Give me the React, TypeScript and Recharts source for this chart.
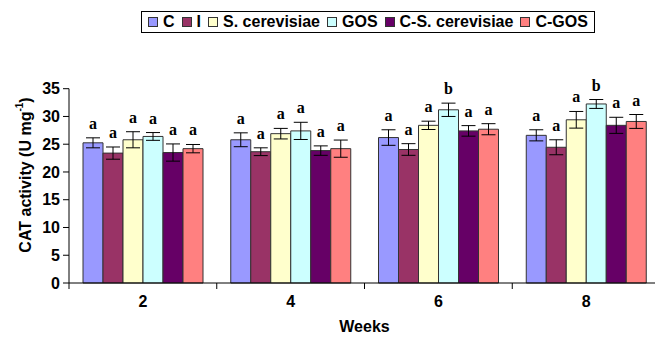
import React from 'react';
import { BarChart, Bar, XAxis, YAxis, ErrorBar, LabelList, Legend, Label } from 'recharts';

const weeks = ['2', '4', '6', '8'];
const seriesNames = ['C', 'I', 'S. cerevisiae', 'GOS', 'C-S. cerevisiae', 'C-GOS'];
const colors = ['#9999FF', '#993366', '#FFFFCC', '#CCFFFF', '#660066', '#FF8080'];

const cValues = [25.25, 25.8, 26.2, 26.6];
const cErr = [0.9, 1.25, 1.4, 1.0];
const iValues = [23.4, 23.65, 24.05, 24.45];
const iErr = [1.1, 0.7, 1.05, 1.35];
const scValues = [25.8, 26.9, 28.4, 29.4];
const scErr = [1.45, 0.95, 0.75, 1.5];
const gosValues = [26.4, 27.4, 31.2, 32.25];
const gosErr = [0.7, 1.55, 1.2, 0.8];
const cscValues = [23.5, 23.85, 27.4, 28.4];
const cscErr = [1.55, 0.85, 0.95, 1.45];
const cgosValues = [24.2, 24.2, 27.7, 29.1];
const cgosErr = [0.75, 1.55, 1.0, 1.25];

const cLetters = ['a', 'a', 'a', 'a'];
const iLetters = ['a', 'a', 'a', 'a'];
const scLetters = ['a', 'a', 'a', 'a'];
const gosLetters = ['a', 'a', 'b', 'b'];
const cscLetters = ['a', 'a', 'a', 'a'];
const cgosLetters = ['a', 'a', 'a', 'a'];

const yTicks = [0, 5, 10, 15, 20, 25, 30, 35];

const allValues = [cValues, iValues, scValues, gosValues, cscValues, cgosValues];
const allErr = [cErr, iErr, scErr, gosErr, cscErr, cgosErr];
const allLetters = [cLetters, iLetters, scLetters, gosLetters, cscLetters, cgosLetters];

const data = weeks.map((w, i) => {
  const row: any = { week: w };
  allValues.forEach((vals, s) => {
    row['s' + s] = vals[i];
    row['e' + s] = allErr[s][i];
  });
  return row;
});

const FONT = 'Arial, "Liberation Sans", sans-serif';
const FS = 16;

const makeLetterLabel = (s: number) => (props: any) => {
  const vb = props.viewBox || props;
  const x = vb.x ?? props.x;
  const y = vb.y ?? props.y;
  const width = vb.width ?? props.width;
  const height = vb.height ?? props.height;
  const idx = props.index;
  const value = allValues[s][idx];
  const err = allErr[s][idx];
  const pxPerUnit = height / value;
  const top = y - err * pxPerUnit;
  return (
    <text
      x={x + width / 2}
      y={top - 9}
      textAnchor="middle"
      fontFamily='"Liberation Serif", "Times New Roman", serif'
      fontWeight="bold"
      fontSize={16}
      fill="#000"
    >
      {allLetters[s][idx]}
    </text>
  );
};

const XTick = (props: any) => {
  const { x, y, payload } = props;
  const half = payload && payload.offset ? payload.offset : 73.9;
  return (
    <g>
      <line x1={x - half} y1={y - 8} x2={x - half} y2={y - 2} stroke="#000" strokeWidth={1} />
      <text x={x} y={y + 16} textAnchor="middle" fontFamily={FONT} fontWeight="bold" fontSize={FS} fill="#000">
        {payload.value}
      </text>
    </g>
  );
};

const YTitle = () => (
  <text
    x={25}
    y={175}
    transform="rotate(-90 25 175)"
    textAnchor="middle"
    dominantBaseline="central"
    fontFamily={FONT}
    fontWeight="bold"
    fontSize={FS}
    fill="#000"
  >
    CAT activity (U mg
    <tspan fontSize={10} dy={-6}>-1</tspan>
    <tspan dy={6}>)</tspan>
  </text>
);

const LegendContent = () => (
  <div
    style={{
      display: 'flex',
      alignItems: 'center',
      border: '1px solid #000',
      padding: '1px 6px',
      background: '#fff',
      fontFamily: FONT,
      fontWeight: 'bold',
      fontSize: FS,
      lineHeight: '18px',
      whiteSpace: 'nowrap',
      color: '#000',
    }}
  >
    {seriesNames.map((n, i) => (
      <div key={n} style={{ display: 'flex', alignItems: 'center', marginRight: i < seriesNames.length - 1 ? 7 : 0 }}>
        <span
          style={{
            display: 'inline-block',
            width: 8,
            height: 8,
            background: colors[i],
            border: '1px solid #333',
            marginRight: 5,
          }}
        />
        <span>{n}</span>
      </div>
    ))}
  </div>
);

export default function App() {
  return (
    <div style={{ position: 'absolute', left: 0, top: 0, width: 655, height: 346, overflow: 'hidden', background: '#fff' }}>
      <BarChart
        width={665}
        height={346}
        data={data}
        margin={{ top: 66.7, right: 5, left: 0, bottom: 0 }}
        barCategoryGap={14}
        barGap={0}
      >
        <Legend
          layout="vertical"
          align="center"
          verticalAlign="top"
          content={<LegendContent />}
          wrapperStyle={{ left: 141, top: 11, width: 'auto' }}
        />
        <XAxis
          dataKey="week"
          height={63}
          axisLine={{ stroke: '#000' }}
          tickLine={false}
          tick={<XTick />}
          interval={0}
        >
          <Label
            value="Weeks"
            position="insideBottom"
            offset={14}
            style={{ fontFamily: FONT, fontWeight: 'bold', fontSize: FS, fill: '#000' }}
          />
        </XAxis>
        <YAxis
          width={69}
          domain={[0, 35]}
          ticks={yTicks}
          interval={0}
          axisLine={{ stroke: '#000' }}
          tickLine={{ stroke: '#000' }}
          tickSize={6}
          tickMargin={3}
          tick={{ fontFamily: FONT, fontWeight: 'bold', fontSize: FS, fill: '#000' }}
          label={<YTitle />}
        />
        {seriesNames.map((n, s) => (
          <Bar
            key={n}
            dataKey={'s' + s}
            name={n}
            fill={colors[s]}
            stroke="#333"
            strokeWidth={1}
            isAnimationActive={false}
          >
            <ErrorBar dataKey={'e' + s} width={7} stroke="#000" strokeWidth={1} />
            <LabelList dataKey={'s' + s} content={makeLetterLabel(s)} />
          </Bar>
        ))}
      </BarChart>
    </div>
  );
}
